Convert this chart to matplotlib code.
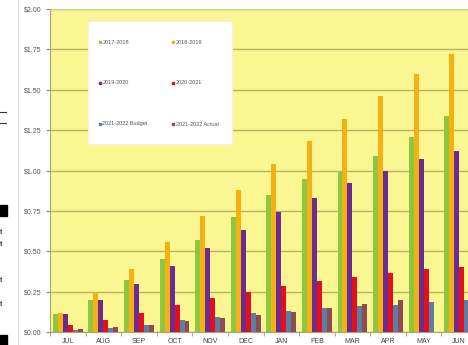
import numpy as np
import matplotlib
matplotlib.use("Agg")
import matplotlib.pyplot as plt
from matplotlib.patches import Rectangle
from matplotlib.lines import Line2D
from matplotlib.ticker import FuncFormatter, MultipleLocator

plt.rcParams['font.family'] = ['Liberation Sans', 'DejaVu Sans']

months = ['JUL', 'AUG', 'SEP', 'OCT', 'NOV', 'DEC', 'JAN', 'FEB', 'MAR', 'APR', 'MAY', 'JUN']
labels = ['2017-2018', '2018-2019', '2019-2020', '2020-2021', '2021-2022 Budget', '2021-2022 Actual']

fy1718 = [0.11, 0.20, 0.32, 0.45, 0.57, 0.71, 0.85, 0.95, 0.99, 1.09, 1.21, 1.34]
fy1819 = [0.12, 0.25, 0.39, 0.56, 0.72, 0.88, 1.04, 1.18, 1.32, 1.46, 1.60, 1.72]
fy1920 = [0.11, 0.20, 0.295, 0.41, 0.52, 0.63, 0.74, 0.83, 0.92, 1.00, 1.07, 1.12]
fy2021 = [0.045, 0.076, 0.117, 0.168, 0.209, 0.25, 0.287, 0.316, 0.342, 0.367, 0.388, 0.402]
budget = [0.015, 0.025, 0.045, 0.074, 0.094, 0.117, 0.131, 0.148, 0.158, 0.17, 0.185, 0.199]
actual = [0.018, 0.03, 0.045, 0.066, 0.088, 0.107, 0.121, 0.148, 0.174, 0.20, np.nan, np.nan]

series = [fy1718, fy1819, fy1920, fy2021, budget, actual]
colors = ['#8DC63F', '#F5B014', '#6B2C91', '#E3101B', '#5B7EA4', '#8E4B50']

fig = plt.figure(figsize=(4.68, 3.45), dpi=100)
fig.patch.set_facecolor('white')

# plot area runs off the right edge (cropped screenshot)
ax = fig.add_axes([50/468, 13/345, 427/468, 323/345])
ax.set_facecolor('#FAF692')

x = np.arange(len(months))
w = 0.14
for i, (vals, c, lab) in enumerate(zip(series, colors, labels)):
    ax.bar(x + (i - 2.5) * w, vals, width=w, color=c, label=lab, zorder=3)

ax.set_xlim(-0.5, 11.5)
ax.set_ylim(0, 2.0)
ax.yaxis.set_major_locator(MultipleLocator(0.25))
ax.yaxis.set_major_formatter(FuncFormatter(lambda v, p: "${:.2f}".format(v)))
ax.grid(axis='y', color='#B8B263', linewidth=1, zorder=1)

ax.set_xticks(x)
ax.set_xticklabels(months)
ax.set_xticks(np.arange(-0.5, 12, 1), minor=True)
ax.tick_params(axis='x', which='major', length=0, labelsize=5, labelcolor='#444444', pad=4)
ax.tick_params(axis='x', which='minor', length=3, color='#999999')
ax.tick_params(axis='y', length=3, color='#888888', labelsize=5, labelcolor='#555555', pad=3)

for s in ['left', 'bottom']:
    ax.spines[s].set_color('#A9A37A')
ax.spines['top'].set_color('#C8C8A0')
ax.spines['right'].set_visible(False)

# legend box, laid out row by row like the original
fig.add_artist(Rectangle((88/468, 1 - 144/345), 144/468, 123/345, facecolor='white',
                         edgecolor='#EEEEEE', linewidth=0.5, transform=fig.transFigure,
                         zorder=5))
col_x = [100, 173]
row_y = [42, 83, 124]
for k, (lab, c) in enumerate(zip(labels, colors)):
    px = col_x[k % 2]
    py = row_y[k // 2]
    fig.add_artist(Line2D([px/468], [1 - py/345], linestyle='none', marker='s',
                          markersize=1.6, markerfacecolor=c, markeredgecolor=c,
                          transform=fig.transFigure, zorder=6))
    fig.text((px + 2.5)/468, 1 - py/345, lab, fontsize=4, color='#555555',
             va='center', ha='left', zorder=6)

# cropped fragments of the neighbouring panel on the left
fig.add_artist(Line2D([18/468, 18/468], [0, 1], color='#DDDDDD', linewidth=0.8,
                      transform=fig.transFigure))
fig.add_artist(Rectangle((0, 1 - 216/345), 7/468, 11/345, color='black',
                         transform=fig.transFigure))
fig.add_artist(Rectangle((0, 0), 7/468, 10/345, color='black',
                         transform=fig.transFigure))
for yy in [112, 123]:
    fig.add_artist(Line2D([0, 6/468], [1 - yy/345, 1 - yy/345], color='#333333',
                          linewidth=0.8, transform=fig.transFigure))
for yy in [233, 245, 280, 305]:
    fig.text(0.0, 1 - yy/345, 't', fontsize=6, color='black', va='center', ha='left')

fig.savefig('out.png', dpi=100)
